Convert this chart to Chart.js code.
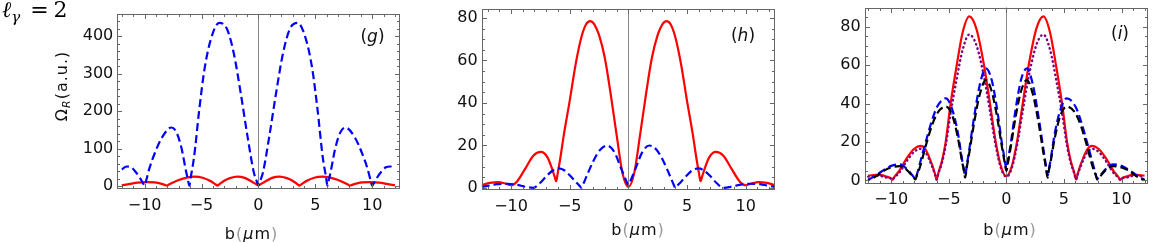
<!DOCTYPE html>
<html lang="en">
<head>
<meta charset="UTF-8">
<title>Rabi frequency vs impact parameter</title>
<style>
  body { margin: 0; background: #fff; width: 1153px; height: 243px; overflow: hidden; position: relative; font-family: "DejaVu Sans", sans-serif; }
  canvas { position: absolute; top: 0; }
  .lbl { position: absolute; transform: translate(-50%, -50%); line-height: 1; white-space: nowrap; color: #111; }
  .gray { color: #999; }
  .ell { position: absolute; left: 2px; top: -1px; font-family: "DejaVu Serif", serif; font-size: 22px; line-height: 1; white-space: nowrap; }
  .ell sub { font-size: 15px; vertical-align: -5px; }
  .ell .eq { margin-left: 10px; margin-right: 5px; }
  .ytitle { position: absolute; left: 62.5px; top: 86px; transform: translate(-50%, -50%) rotate(-90deg); font-size: 16px; letter-spacing: 1px; line-height: 1; white-space: nowrap; color: #111; }
  .ytitle sub { font-size: 11px; font-style: italic; vertical-align: -3px; }
  .xt { font-size: 16px; letter-spacing: 1px; }
  .pl { font-size: 17px; }
</style>
</head>
<body>
<canvas id="g" width="405" height="243" style="left:0px"></canvas>
<canvas id="h" width="370" height="243" style="left:410px"></canvas>
<canvas id="i" width="363" height="243" style="left:790px"></canvas>

<div class="ell"><i>ℓ</i><sub><i>γ</i></sub><span class="eq">=</span>2</div>
<div class="ytitle">Ω<sub>R</sub>(a.u.)</div>
<div class="lbl xt" style="left:251.5px; top:234px">b<span class="gray">(</span><i>μ</i>m<span class="gray">)</span></div>
<div class="lbl xt" style="left:638px; top:230px">b<span class="gray">(</span><i>μ</i>m<span class="gray">)</span></div>
<div class="lbl xt" style="left:1010px; top:229.5px">b<span class="gray">(</span><i>μ</i>m<span class="gray">)</span></div>
<div class="lbl pl" style="left:372.5px; top:35.5px">(<i>g</i>)</div>
<div class="lbl pl" style="left:743px; top:35px">(<i>h</i>)</div>
<div class="lbl pl" style="left:1120px; top:32.5px">(<i>i</i>)</div>

<script src="https://cdn.jsdelivr.net/npm/chart.js"></script>
<script>
// tick labels
const xTicks = [-10, -5, 0, 5, 10];
const gYTicks = [0, 100, 200, 300, 400];
const hYTicks = [0, 20, 40, 60, 80];
const iYTicks = [0, 20, 40, 60, 80];

// panel (g)
const gBlueX = [-12,-11.6,-11.2,-10.8,-10.4,-10.15,-10,-9.85,-9.6,-9.1,-8.5,-7.65,-7.2,-6.75,-6.35,-6.2,-6.07,-5.93,-5.65,-5.2,-4.75,-4.2,-3.45,-2.75,-2.15,-1.55,-0.95,-0.4,-0.15,
  0,0.15,0.4,0.95,1.55,2.15,2.75,3.45,4.2,4.75,5.2,5.65,5.93,6.07,6.2,6.35,6.75,7.2,7.65,8.5,9.1,9.6,9.85,10,10.15,10.4,10.8,11.2,11.6,12];
const gBlueY = [44,52,50,38,21,8,1,16,45,88,128,156,143,100,38,18,1,26,78,203,309,389,435,418,352,247,131,36,13,
  2,13,36,131,247,352,418,435,389,309,203,78,26,1,18,38,100,143,156,128,88,45,16,1,8,21,38,50,52,45];
const gRedX = [-12,-11.3,-10.6,-9.8,-9.1,-8.5,-8.2,-8.05,-7.9,-7.6,-7,-6.3,-5.6,-4.9,-4.2,-3.75,-3.6,-3.45,-3,-2.5,-1.85,-1.2,-0.6,-0.15,
  0,0.15,0.6,1.2,1.85,2.5,3,3.45,3.6,3.75,4.2,4.9,5.6,6.3,7,7.6,7.9,8.05,8.2,8.5,9.1,9.8,10.6,11.3,12];
const gRedY = [1.5,5.5,9,10.5,9.5,5.5,2.5,1,3.3,8,16,22.5,25,22,13,4,1,4.3,14,21,25,21.5,12,4,
  1.5,4,12,21.5,25,21,14,4.3,1,4,13,22,25,22.5,16,8,3.3,1,2.5,5.5,9.5,10.5,9,5.5,1.5];

// panel (h)
const hRedX = [-12.5,-11.8,-11.1,-10.5,-10,-9.5,-8.8,-8.1,-7.45,-6.9,-6.5,-6.28,-6.15,-6.02,-5.8,-5.5,-5,-4.5,-4,-3.6,-3.25,-2.9,-2.5,-2,-1.5,-1,-0.5,
  0,0.5,1,1.5,2,2.5,2.9,3.25,3.6,4,4.5,5,5.5,5.8,6.02,6.15,6.28,6.5,6.9,7.45,8.1,8.8,9.5,10,10.5,11.1,11.8,12.5];
const hRedY = [1.3,2.4,2.8,2.1,1.3,3,9,15.2,17,14.5,9,5.2,3.2,7,14,25,41,58,71,77,78.5,77,72,61,44,25,7,
  0.5,7,25,44,61,72,77,78.5,77,71,58,41,25,14,7,3.2,5.2,9,14.5,17,15.2,9,3,1.3,2.1,2.8,2.4,1.3];
const hBlueX = [-12.5,-12,-11.2,-10.3,-9.5,-8.8,-8.1,-7.5,-7,-6.5,-6,-5.5,-5,-4.5,-4.15,-4,-3.85,-3.6,-3,-2.4,-1.8,-1.2,-0.6,-0.15,
  0,0.15,0.6,1.2,1.8,2.4,3,3.6,3.85,4,4.15,4.5,5,5.5,6,6.5,7,7.5,8.1,8.8,9.5,10.3,11.2,12,12.5];
const hBlueY = [0.5,1,1.8,2,1.5,0.6,0.1,2.5,5.5,8,9.2,8.5,6,3,1,0.1,1.8,5,12.5,18,20,17,9,3,
  1.5,3,9,17,20,18,12.5,5,1.8,0.1,1,3,6,8.5,9.2,8,5.5,2.5,0.1,0.6,1.5,2,1.8,1,0.5];

// panel (i)
const iX = [-12,-11.1,-10.5,-10.05,-9.9,-9.75,-9.3,-8.6,-8,-7.45,-7,-6.5,-6.2,-6.05,-5.9,-5.6,-5.27,-4.84,-4.31,-3.8,-3.22,-2.6,-1.94,-1.42,-0.92,-0.45,
  0,0.45,0.92,1.42,1.94,2.6,3.22,3.8,4.31,4.84,5.27,5.6,5.9,6.05,6.2,6.5,7,7.45,8,8.6,9.3,9.75,9.9,10.05,10.5,11.1,12];
const iRedY = [2.5,3,2.2,1.2,0.3,1.6,5,12,16.5,18,16,9,3.5,0.5,4,10,20,40,60,77,85.5,79,60,40,20,7,
  2.2,7,20,40,60,79,85.5,77,60,40,20,10,4,0.5,3.5,9,16,18,16.5,12,5,1.6,0.3,1.2,2.2,3,2.5];
const iPurpleY = [2,2.5,1.6,1.1,0.3,1.4,4,10.5,15,16.5,14.5,8,3.2,0.5,3.6,9,18,35,53,68,76,70.5,54,36,18,6,
  2,6,18,36,54,70.5,76,68,53,35,18,9,3.6,0.5,3.2,8,14.5,16.5,15,10.5,4,1.4,0.3,1.1,1.6,2.5,2];
const iX2 = [-12,-11.5,-11,-10.5,-10,-9.25,-8.65,-8.2,-8.02,-7.9,-7.75,-7.5,-7,-6.5,-6,-5.25,-4.7,-4.2,-3.85,-3.7,-3.58,-3.43,-3.2,-2.8,-2.3,-1.78,-1.3,-0.8,-0.4,-0.15,
  0,0.15,0.4,0.8,1.3,1.78,2.3,2.8,3.2,3.43,3.58,3.7,3.85,4.2,4.7,5.25,6,6.5,7,7.5,7.75,7.9,8.02,8.2,8.65,9.25,10,10.5,11,11.5,12];
const iBlueY = [0.3,2,4,6,7.6,8.4,6,3,1.6,0.8,3.5,9,20,30.5,38.5,42.8,37,24.5,11,6,2.5,8,17,33,50,58.4,53,37,20,11,
  6,11,20,37,53,58.4,50,33,17,8,2.5,6,11,24.5,37,42.8,38.5,30.5,20,9,3.5,0.8,1.6,3,6,8.4,7.6,6,4,2,0.3];
const iBlackY = [0,1.5,3.5,5.5,6.8,7.5,5.5,2.5,1.3,0.5,3,7,18,28,35,38.5,34,22,10,5.5,1.5,7,15,30,45,52.3,47,33,18,9.5,
  5,9.5,18,33,47,52.3,45,30,15,7,1.5,5.5,10,22,34,38.5,35,28,18,7,3,0.5,1.3,2.5,5.5,7.5,6.8,5.5,3.5,1.5,0];

Chart.defaults.font.family = '"DejaVu Sans", sans-serif';
Chart.defaults.font.size = 16;
Chart.defaults.color = '#111';

const pts = (xs, ys) => xs.map((x, k) => ({ x: x, y: ys[k] }));
const fmt = v => v < 0 ? '\u2212' + Math.abs(v) : String(v);

// frame with inward ticks, Mathematica style, plus the b = 0 line
const framePlugin = {
  id: 'frame',
  beforeDatasetsDraw(chart) {
    const { ctx, chartArea: a, scales: { x } } = chart;
    const p = Math.round(x.getPixelForValue(0)) + 0.5;
    ctx.save();
    ctx.strokeStyle = '#888';
    ctx.lineWidth = 1;
    ctx.beginPath();
    ctx.moveTo(p, a.top);
    ctx.lineTo(p, a.bottom);
    ctx.stroke();
    ctx.restore();
  },
  afterDatasetsDraw(chart, args, o) {
    const { ctx, chartArea: a, scales: { x, y } } = chart;
    const L = Math.round(a.left) + 0.5, R = Math.round(a.right) - 0.5;
    const T = Math.round(a.top) + 0.5, B = Math.round(a.bottom) - 0.5;
    ctx.save();
    ctx.strokeStyle = '#666';
    ctx.lineWidth = 1;
    ctx.strokeRect(L, T, R - L, B - T);
    ctx.beginPath();
    for (let v = Math.ceil(x.min); v <= x.max; v += 1) {
      const p = Math.round(x.getPixelForValue(v)) + 0.5;
      const len = v % 5 === 0 ? 4.5 : 2.5;
      ctx.moveTo(p, B); ctx.lineTo(p, B - len);
      ctx.moveTo(p, T); ctx.lineTo(p, T + len);
    }
    for (let v = Math.ceil(y.min / o.minor) * o.minor; v <= y.max; v += o.minor) {
      const p = Math.round(y.getPixelForValue(v)) + 0.5;
      const len = v % o.major === 0 ? 4.5 : 2.5;
      ctx.moveTo(L, p); ctx.lineTo(L + len, p);
      ctx.moveTo(R, p); ctx.lineTo(R - len, p);
    }
    ctx.stroke();
    ctx.restore();
  }
};

function panel(id, cfg, datasets) {
  return new Chart(document.getElementById(id), {
    type: 'line',
    data: { datasets: datasets },
    options: {
      responsive: false,
      animation: false,
      devicePixelRatio: 1,
      layout: { padding: { left: 0, right: cfg.padRight, top: cfg.padTop, bottom: 0 } },
      elements: { point: { radius: 0 }, line: { cubicInterpolationMode: 'monotone', fill: false } },
      plugins: { legend: { display: false }, tooltip: { enabled: false }, frame: { minor: cfg.minor, major: cfg.major } },
      scales: {
        x: {
          type: 'linear', min: cfg.xRange[0], max: cfg.xRange[1],
          grid: { display: false, drawTicks: false }, border: { display: false },
          ticks: { padding: cfg.xPad, callback: fmt, maxRotation: 0 },
          afterBuildTicks: s => { s.ticks = xTicks.map(v => ({ value: v })); },
          afterFit: s => { s.height = cfg.xH; s.paddingLeft = 0; s.paddingRight = 0; }
        },
        y: {
          type: 'linear', min: cfg.yRange[0], max: cfg.yRange[1],
          grid: { display: false, drawTicks: false }, border: { display: false },
          ticks: { padding: 4 },
          afterBuildTicks: s => { s.ticks = cfg.yTicks.map(v => ({ value: v })); },
          afterFit: s => { s.width = cfg.yW; s.paddingTop = 0; s.paddingBottom = 0; }
        }
      }
    },
    plugins: [framePlugin]
  });
}

panel('g', { padRight: 5.5, padTop: 14, yW: 117.3, xH: 54, xPad: 7, xRange: [-12.4, 12.4], yRange: [-8, 458.7], yTicks: gYTicks, minor: 20, major: 100 }, [
  { data: pts(gRedX, gRedY), borderColor: '#ff0000', borderWidth: 2.3, order: 2 },
  { data: pts(gBlueX, gBlueY), borderColor: '#0000ff', borderWidth: 2.2, borderDash: [8, 4], order: 1 }
]);

panel('h', { padRight: 5, padTop: 9, yW: 71.7, xH: 53.5, xPad: 8, xRange: [-12.5, 12.5], yRange: [-0.7, 84.2], yTicks: hYTicks, minor: 5, major: 20 }, [
  { data: pts(hRedX, hRedY), borderColor: '#ff0000', borderWidth: 2.2, order: 2 },
  { data: pts(hBlueX, hBlueY), borderColor: '#0000ff', borderWidth: 2.2, borderDash: [8, 4], order: 1 }
]);

panel('i', { padRight: 5, padTop: 7.5, yW: 74.7, xH: 58.7, xPad: 6, xRange: [-12.3, 12.3], yRange: [-2, 90.1], yTicks: iYTicks, minor: 5, major: 20 }, [
  { data: pts(iX, iRedY), borderColor: '#ff0000', borderWidth: 2.2, order: 4 },
  { data: pts(iX, iPurpleY), borderColor: '#800080', borderWidth: 2.4, borderDash: [0.5, 4], borderCapStyle: 'round', order: 3 },
  { data: pts(iX2, iBlueY), borderColor: '#0000ff', borderWidth: 2.2, borderDash: [8, 4], order: 2 },
  { data: pts(iX2, iBlackY), borderColor: '#000000', borderWidth: 2.2, borderDash: [8, 4], borderDashOffset: 6, order: 1 }
]);
</script>
</body>
</html>
